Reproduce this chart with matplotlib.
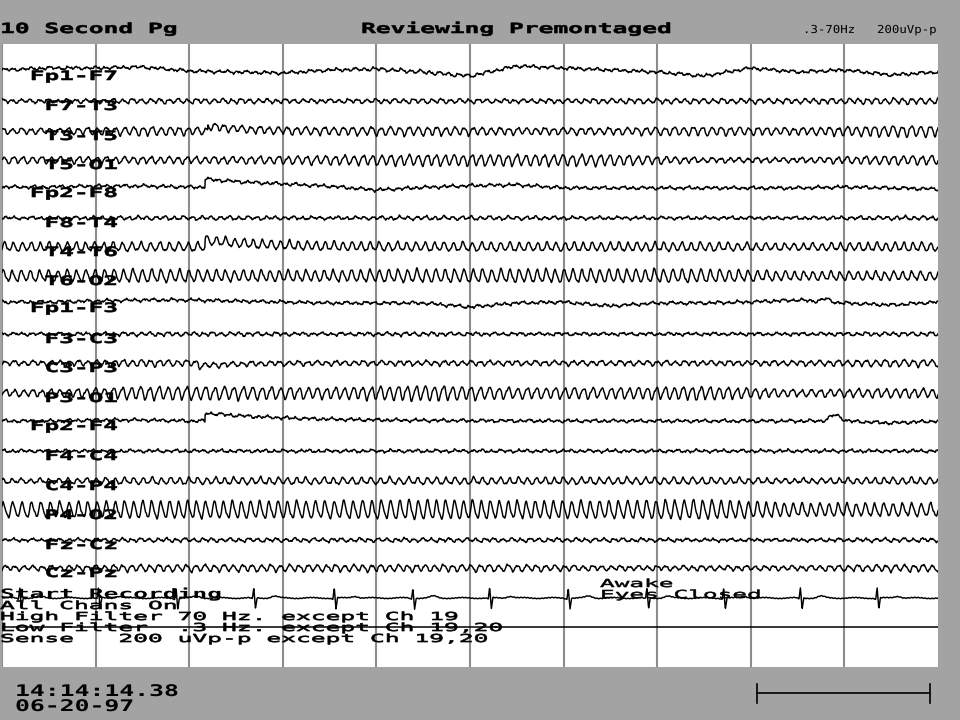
import numpy as np
import matplotlib
matplotlib.use("Agg")
import matplotlib.pyplot as plt
from matplotlib import patheffects
from matplotlib.transforms import Affine2D

############ Page data ############

# montage labels and trace rows (pixel rows on the 960x720 page)
canaux = ["Fp1-F7", "F7-T3", "T3-T5", "T5-O1", "Fp2-F8", "F8-T4", "T4-T6", "T6-O2",
          "Fp1-F3", "F3-C3", "C3-P3", "P3-O1", "Fp2-F4", "F4-C4", "C4-P4", "P4-O2",
          "Fz-Cz", "Cz-Pz"]
lignes = [71, 101, 131, 160, 188, 218, 247, 276, 303, 334, 363, 393,
          421, 451, 481, 510, 540, 568]
ligne_ecg = 598
ligne_ch20 = 627

# alpha amplitude (half peak-to-peak, px) for each of the 10 seconds
alpha_amp = [
    [1, 1, 1, 1, 1.5, 1, 1, 1, 1, 1],            # Fp1-F7
    [1.5, 2, 2, 1.5, 2, 1.5, 2, 2, 2, 2.5],      # F7-T3
    [2.5, 4, 3, 3.5, 4, 3, 3, 4, 3, 5],          # T3-T5
    [3, 3, 3, 4, 5, 5, 5, 2, 2, 4],              # T5-O1
    [1, 1, 1, 1, 1, 1, 1, 1, 1, 1],              # Fp2-F8
    [1, 1.5, 1.5, 1, 1.5, 1.5, 1, 1, 1, 1.5],    # F8-T4
    [4, 4, 4, 4, 4, 4, 4, 4, 3, 4],              # T4-T6
    [5, 6, 5, 5, 6, 6, 6, 6, 4, 4],              # T6-O2
    [1, 1, 1, 1, 1, 1, 1, 1, 1, 1],              # Fp1-F3
    [1, 1.5, 1.5, 1, 1.5, 1, 1, 1, 1, 1.5],      # F3-C3
    [2, 3, 2, 2, 2, 2, 2, 2, 2, 3],              # C3-P3
    [3, 6, 6, 5, 7, 5, 5, 6, 3, 4],              # P3-O1
    [1, 1, 1, 1, 1, 1, 1, 1, 1, 1],              # Fp2-F4
    [1, 1, 1, 1, 1, 1, 1, 1, 1, 1],              # F4-C4
    [2, 3, 3, 3, 3, 3, 3, 3, 2, 3],              # C4-P4
    [7, 8, 8, 8, 9, 8, 8, 9, 6, 6],              # P4-O2
    [1, 1.5, 1.5, 1.5, 1.5, 1.5, 1.5, 1, 1, 1.5],  # Fz-Cz
    [2, 3, 3, 3, 3, 3, 2, 2, 2, 3],              # Cz-Pz
]
alpha_hz = [10.1, 10.3, 10.2, 10.2, 10.0, 10.4, 10.2, 10.2, 10.1,
            10.3, 10.2, 10.2, 10.0, 10.4, 10.2, 10.2, 10.3, 10.2]

# slow baseline drift every half second (px, up is positive)
derive = {
    "Fp1-F7": [1, 3, 3, 4, 0, -1, -2, 1, 2, -1, -5, 5, 3, 1, -1, -5, 3, -1, 1, -4, -1],
    "Fp2-F8": [1, 1, 2, 2, 1, 1, 1, 0, -3, 0, 2, 3, 0, 0, 0, 0, 0, 0, 1, 0, -1],
    "Fp1-F3": [1, 1, 2, 3, 3, 2, 1, 0, 0, 0, -4, 0, 1, -3, 0, 0, 1, 3, 0, -2, 1],
    "Fp2-F4": [0, 0, 1, 1, 0, 0, 0, 0, 0, 0, 0, 0, 0, 0, 0, 0, 0, 0, 0, -2, 0],
}
# sudden shifts: channel, time (s), height (px), decay (s)
sauts = [("Fp2-F8", 2.17, 8, 0.9), ("T4-T6", 2.17, 7, 0.6), ("Fp2-F4", 2.17, 8, 0.9),
         ("T3-T5", 2.2, 5, 0.4), ("C3-P3", 2.1, -3, 0.4)]
# rounded bumps: channel, time (s), height (px), width (s)
bosses = [("Fp2-F4", 8.9, 6, 0.08), ("Fp1-F3", 8.8, 3, 0.06)]

# ECG (channel 19): beat times in seconds and QRS shape
battements = [0.19, 1.03, 1.86, 2.69, 3.55, 4.39, 5.21, 6.05, 6.89, 7.71, 8.53, 9.35]
qrs_dt = [-0.05, -0.015, 0.0, 0.018, 0.035, 0.06]
qrs_px = [0, -1, 10, -11, 0, 0]

# header / footer texts
en_tete = "10 Second Pg"
titre = "Reviewing Premontaged"
filtre = ".3-70Hz"
sensib = "200uVp-p"
notes = ["Start Recording", "All Chans On", "High Filter 70 Hz. except Ch 19",
         "Low Filter  .3 Hz. except Ch 19,20", "Sense   200 uVp-p except Ch 19,20"]
etat = ["Awake", "Eyes Closed"]
heure = "14:14:14.38"
date = "06-20-97"
barre_x = (757, 930)
barre_y = 693

############ Helpers ############

MONO = "DejaVu Sans Mono"
AVANCE = 1233 / 2048   # advance width of DejaVu Sans Mono, in em


class Etire(patheffects.AbstractPathEffect):
    """Stretches glyphs horizontally (wide terminal font), optional outline."""

    def __init__(self, sx, trait=0.0):
        super().__init__()
        self.sx = sx
        self.trait = trait

    def draw_path(self, renderer, gc, tpath, affine, rgbFace=None):
        aff = Affine2D().scale(self.sx, 1.0) + affine
        if self.trait > 0:
            gc0 = renderer.new_gc()
            gc0.copy_properties(gc)
            gc0.set_linewidth(self.trait)
            gc0.set_foreground(rgbFace)
            renderer.draw_path(gc0, tpath, aff, rgbFace)
            gc0.restore()
        else:
            renderer.draw_path(gc, tpath, aff, rgbFace)


def texte(ax, x, y, s, em, pas, gras=False, trait=0.0):
    # em: font height in px, pas: character pitch in px
    ax.text(x, y, s, fontsize=em * 0.72, family=MONO,
            weight="bold" if gras else "normal", ha="left", va="baseline",
            color="black", path_effects=[Etire(pas / (AVANCE * em), trait)], zorder=10)


t = np.linspace(0, 10, 3000)
centres = np.arange(10) + 0.5
demi = np.arange(21) * 0.5


def signal(k, nom):
    env = np.interp(t, centres, alpha_amp[k])
    phase = 2 * np.pi * alpha_hz[k] * t + 0.9 * np.sin(2 * np.pi * 0.31 * t + k)
    y = env * (np.sin(phase) + 0.18 * np.sin(2 * phase + 0.8 * k))
    # fast background activity
    y += 0.45 * np.sin(2 * np.pi * 23.3 * t + 1.7 * k) + 0.35 * np.sin(2 * np.pi * 37.9 * t + 2.9 * k)
    y += 0.3 * np.sin(2 * np.pi * 58.1 * t + 0.7 * k) + 0.5 * np.sin(2 * np.pi * 4.3 * t + 1.1 * k)
    if nom in derive:
        y += np.interp(t, demi, derive[nom])
    for c, t0, h, tau in sauts:
        if c == nom:
            y += np.where(t >= t0, h * np.exp(-np.clip(t - t0, 0, None) / tau), 0)
    for c, t0, h, w in bosses:
        if c == nom:
            y += h * np.exp(-((t - t0) / w) ** 2)
    return y


############ Figure ############

fig = plt.figure(figsize=(9.6, 7.2), dpi=100, facecolor="#a3a3a3")

# EEG panel: x in seconds, y in page pixel rows
ax = fig.add_axes([2 / 960, 53 / 720, 936 / 960, 623 / 720])
ax.set_xlim(0, 10)
ax.set_ylim(667, 44)
ax.set_facecolor("white")
for s in ax.spines.values():
    s.set_visible(False)
ax.set_xticks([])
ax.set_yticks([])

for sec in range(10):
    ax.axvline(sec, color="#8c8c8c", lw=1.5, zorder=1)

for k, nom in enumerate(canaux):
    ax.plot(t, lignes[k] - signal(k, nom), color="black", lw=1.05, zorder=3)

ecg = 0.3 * np.sin(2 * np.pi * 27.1 * t) + 0.5 * np.sin(2 * np.pi * 3.1 * t)
for b in battements:
    ecg += np.interp(t - b, qrs_dt, qrs_px)
    ecg += 1.8 * np.exp(-((t - b - 0.22) / 0.05) ** 2)
ax.plot(t, ligne_ecg - ecg, color="black", lw=1.05, zorder=3)
ax.axhline(ligne_ch20, color="black", lw=1.1, zorder=3)

# page overlay for texts (pixel coordinates)
page = fig.add_axes([0, 0, 1, 1])
page.set_xlim(0, 960)
page.set_ylim(720, 0)
page.patch.set_alpha(0)
page.set_zorder(5)
page.axis("off")

texte(page, 0, 33, en_tete, 14, 14.8, gras=True, trait=0.4)
texte(page, 361, 33, titre, 14, 14.8, gras=True, trait=0.4)
texte(page, 803, 33, filtre, 11, 7.45)
texte(page, 877, 33, sensib, 11, 7.45)

for k, nom in enumerate(canaux):
    texte(page, 118 - 14.7 * len(nom), lignes[k] + 9, nom, 13, 14.7, gras=True, trait=0.4)

texte(page, 0, 598, notes[0], 13, 14.8, gras=True)
for i, note in enumerate(notes[1:]):
    texte(page, 0, 609 + 11 * i, note, 11, 14.8, trait=0.5)

texte(page, 600, 587, etat[0], 11, 14.7, trait=0.4)
texte(page, 600, 598, etat[1], 11, 14.7, trait=0.4)

texte(page, 15, 696, heure, 16, 14.9, gras=True)
texte(page, 15, 711, date, 16, 14.9, gras=True)

page.plot(barre_x, (barre_y, barre_y), color="black", lw=1.2)
for bx in barre_x:
    page.plot((bx, bx), (barre_y - 9, barre_y + 10), color="black", lw=1.2)

fig.savefig("out.png", dpi=100, facecolor=fig.get_facecolor())
